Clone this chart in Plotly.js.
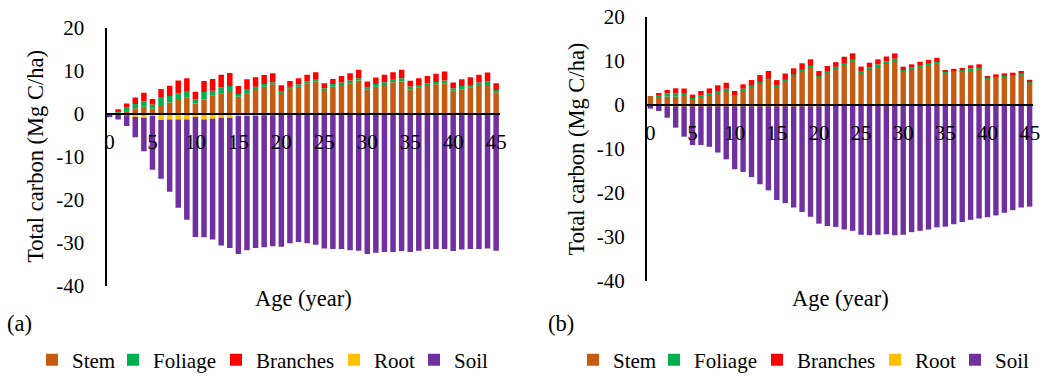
<!DOCTYPE html>
<html>
<head>
<meta charset="utf-8">
<script src="https://cdn.plot.ly/plotly-3.0.1.min.js"></script>
<style>html,body{margin:0;padding:0;background:#fff;}#chart{width:1047px;height:376px;}</style>
</head>
<body>
<div id="chart"></div>
<script>
// ---------- DATA ----------
var ages = [0,1,2,3,4,5,6,7,8,9,10,11,12,13,14,15,16,17,18,19,20,21,22,23,24,25,26,27,28,29,30,31,32,33,34,35,36,37,38,39,40,41,42,43,44,45];
var seriesNames = ['Stem', 'Foliage', 'Branches', 'Root', 'Soil'];
var xTickVals = [0,5,10,15,20,25,30,35,40,45];
var yTickVals = [20,10,0,-10,-20,-30,-40];
var panelLabels = ['(a)', '(b)'];
var xTitle = 'Age (year)';
var yTitle = 'Total carbon (Mg C/ha)';

// Panel (a)
var stemA = [0,0.15,0.4,1.2,1.56,1.17,1.95,2.58,3.13,3.67,2.34,3.28,4.14,4.69,5.23,3.9,4.69,5.47,6.25,6.8,4.84,5.86,6.25,6.9,7.4,5.47,6.25,6.64,7.03,7.66,5.63,6.25,6.64,7.27,7.42,5.63,6.1,6.4,6.8,7.03,5.31,5.63,6.1,6.64,6.64,4.92];
var foliageA = [0,0.47,1.0,1.0,1.25,0.94,1.72,1.48,1.56,1.4,0.94,1.72,1.17,1.33,1.17,0.63,1.0,0.78,0.63,0.47,0.39,0.39,0.55,0.55,0.63,0.39,0.63,0.55,0.63,0.55,0.47,0.63,0.63,0.55,0.78,0.63,0.55,0.63,0.55,0.63,0.55,0.78,0.55,0.55,0.78,0.55];
var branchesA = [0,0.35,0.94,1.55,2.03,1.25,2.03,2.42,2.97,3.13,1.8,2.58,2.73,2.97,3.0,1.88,2.27,2.19,2.1,2.1,1.33,1.33,1.4,1.56,1.56,1.17,1.17,1.56,1.72,1.95,1.33,1.48,1.72,1.8,1.95,1.33,1.56,1.72,1.88,2.1,1.33,1.56,1.8,1.8,2.1,1.56];
var rootA = [-0.1,-0.2,-0.4,-0.8,-1.0,-0.6,-1.5,-1.4,-1.4,-1.4,-0.8,-1.4,-1.2,-1.0,-1.0,-0.6,-0.6,-0.5,-0.4,-0.4,-0.3,-0.25,-0.25,-0.25,-0.25,-0.25,-0.25,-0.25,-0.25,-0.25,-0.25,-0.25,-0.25,-0.25,-0.25,-0.25,-0.25,-0.25,-0.25,-0.25,-0.25,-0.25,-0.25,-0.25,-0.25,-0.25];
var soilA = [-0.8,-1.2,-2.5,-4.7,-7.75,-12.5,-13.7,-16.8,-20.5,-23.3,-27.9,-27.35,-28.1,-29.7,-30.25,-32.1,-31.2,-30.75,-30.7,-30.5,-30.7,-29.95,-29.65,-29.95,-30.25,-31.15,-31.25,-31.25,-31.55,-31.65,-32.45,-32.15,-31.95,-31.95,-31.75,-31.95,-31.65,-31.25,-31.25,-31.25,-31.75,-31.35,-31.25,-31.25,-31.15,-31.65];

// Panel (b)
var stemB = [2.05,1.9,1.9,1.9,2.05,1.44,1.9,2.27,2.8,3.4,2.05,3.4,4.17,4.9,5.7,4.3,5.5,6.6,7.6,8.5,6.2,7.35,8.3,9.1,10.0,7.35,8.1,8.86,9.5,10.15,7.65,8.1,8.7,9.1,9.6,7.35,7.5,7.7,7.95,8.26,6.1,6.2,6.36,6.6,6.9,5.1];
var foliageB = [0,0.45,0.76,0.76,0.5,0.15,0.38,0.3,0.38,0.3,0.23,0.3,0.3,0.3,0.3,0.23,0.3,0.38,0.38,0.38,0.38,0.38,0.38,0.38,0.38,0.38,0.38,0.38,0.38,0.38,0.3,0.38,0.38,0.38,0.23,0.23,0.23,0.23,0.38,0.23,0.23,0.38,0.38,0.3,0.3,0.1];
var branchesB = [0,0.38,0.76,1.14,1.2,0.76,0.9,1.2,1.3,1.36,0.9,1.0,1.2,1.6,1.74,1.14,1.36,1.36,1.5,1.5,1.14,1.14,1.06,1.5,1.36,1.0,1.14,1.14,1.14,1.2,0.76,0.76,0.76,0.76,0.9,0.38,0.5,0.5,0.68,0.76,0.23,0.38,0.45,0.45,0.53,0.53];
var rootB = [-0.1,-0.15,-0.3,-0.3,-0.3,-0.3,-0.3,-0.3,-0.3,-0.3,-0.3,-0.3,-0.3,-0.3,-0.3,-0.3,-0.3,-0.3,-0.3,-0.3,-0.3,-0.2,-0.2,-0.2,-0.2,-0.2,-0.2,-0.2,-0.2,-0.2,-0.2,-0.2,-0.2,-0.2,-0.2,-0.2,-0.2,-0.2,-0.2,-0.2,-0.2,-0.2,-0.2,-0.2,-0.2,-0.2];
var soilB = [-0.73,-1.21,-2.6,-4.85,-6.9,-8.8,-8.8,-9.2,-10.5,-12.05,-14.3,-14.9,-16.1,-17.7,-19.1,-21.3,-22.0,-23.0,-24.0,-25.1,-26.67,-27.3,-27.5,-28.1,-28.4,-29.3,-29.4,-29.3,-29.2,-29.4,-29.3,-28.7,-28.4,-28.1,-27.6,-27.45,-26.9,-26.4,-25.9,-25.6,-25.3,-24.9,-24.3,-23.7,-23.1,-22.9];

// ---------- STYLE ----------
var colors = ['#C55A11', '#00B050', '#FF0000', '#FFC000', '#7030A0'];
var legendWidths = [36, 58, 73, 35, 40];
var FONT = 'Liberation Serif';
function mkFont(size) { return { family: FONT, size: size, color: '#000' }; }
var W = 1047, H = 376;
function px(x) { return x / W; }
function py(y) { return 1 - y / H; }

var seriesA = [stemA, foliageA, branchesA, rootA, soilA];
var seriesB = [stemB, foliageB, branchesB, rootB, soilB];

var traces = [];
seriesNames.forEach(function (name, k) {
  traces.push({
    type: 'bar', x: ages, y: seriesA[k], name: name,
    marker: { color: colors[k], line: { width: 0 } },
    xaxis: 'x', yaxis: 'y', legend: 'legend', legendwidth: legendWidths[k],
    hoverinfo: 'x+y+name'
  });
});
seriesNames.forEach(function (name, k) {
  traces.push({
    type: 'bar', x: ages, y: seriesB[k], name: name,
    marker: { color: colors[k], line: { width: 0 } },
    xaxis: 'x2', yaxis: 'y2', legend: 'legend2', legendwidth: legendWidths[k],
    hoverinfo: 'x+y+name'
  });
});

// pixel geometry of the two plot areas
var A = { left: 106.5, right: 500, top: 27.5, bottom: 285.5 };
var B = { left: 647, right: 1033, top: 17, bottom: 281 };
function zeroPos(P) { return py(P.top + (P.bottom - P.top) * (20 / 60)); }

function xAxis(P) {
  return {
    domain: [px(P.left), px(P.right)],
    anchor: 'free', position: zeroPos(P),
    tickmode: 'array', tickvals: xTickVals, ticktext: xTickVals.map(String),
    ticks: '', showgrid: false, zeroline: false,
    showline: true, linecolor: '#000', linewidth: 2,
    tickfont: mkFont(21), ticklabelstandoff: 9
  };
}
function yAxis(P, xname) {
  return {
    domain: [py(P.bottom), py(P.top)],
    anchor: xname, range: [-40, 20],
    tickmode: 'array', tickvals: yTickVals, ticktext: yTickVals.map(String),
    ticks: '', showgrid: false, zeroline: false,
    showline: true, linecolor: '#000', linewidth: 2,
    tickfont: mkFont(21), ticklabelstandoff: 16,
    title: { text: yTitle, font: mkFont(22.5), standoff: 6 }
  };
}

var xa = xAxis(A); xa.range = [-0.35, 45.45];
var xb = xAxis(B); xb.range = [-0.4, 45.4];

function mkLegend(left) {
  return {
    orientation: 'h', xanchor: 'left', yanchor: 'middle',
    xref: 'container', yref: 'container',
    x: px(left), y: py(360), font: mkFont(21),
    itemwidth: 30, traceorder: 'normal', bgcolor: 'rgba(0,0,0,0)',
    borderwidth: 0, itemclick: false, itemdoubleclick: false
  };
}

var layout = {
  width: W, height: H, autosize: false,
  font: mkFont(21),
  margin: { l: 0, r: 0, t: 0, b: 0, pad: 0, autoexpand: false },
  paper_bgcolor: '#fff', plot_bgcolor: 'rgba(0,0,0,0)',
  barmode: 'relative', bargap: 0.36,
  showlegend: true,
  xaxis: xa, yaxis: yAxis(A, 'x'),
  xaxis2: xb, yaxis2: yAxis(B, 'x2'),
  legend: mkLegend(32), legend2: mkLegend(32 + 541),
  annotations: [
    { text: xTitle, xref: 'paper', yref: 'paper', x: px((A.left + A.right) / 2), y: py(298), xanchor: 'center', yanchor: 'middle', showarrow: false, font: mkFont(22.5) },
    { text: xTitle, xref: 'paper', yref: 'paper', x: px((B.left + B.right) / 2), y: py(298), xanchor: 'center', yanchor: 'middle', showarrow: false, font: mkFont(22.5) },
    { text: panelLabels[0], xref: 'paper', yref: 'paper', x: px(5), y: py(323), xanchor: 'left', yanchor: 'middle', showarrow: false, font: mkFont(22.5) },
    { text: panelLabels[1], xref: 'paper', yref: 'paper', x: px(546), y: py(323), xanchor: 'left', yanchor: 'middle', showarrow: false, font: mkFont(22.5) }
  ]
};

Plotly.newPlot('chart', traces, layout, { displayModeBar: false });
</script>
</body>
</html>
